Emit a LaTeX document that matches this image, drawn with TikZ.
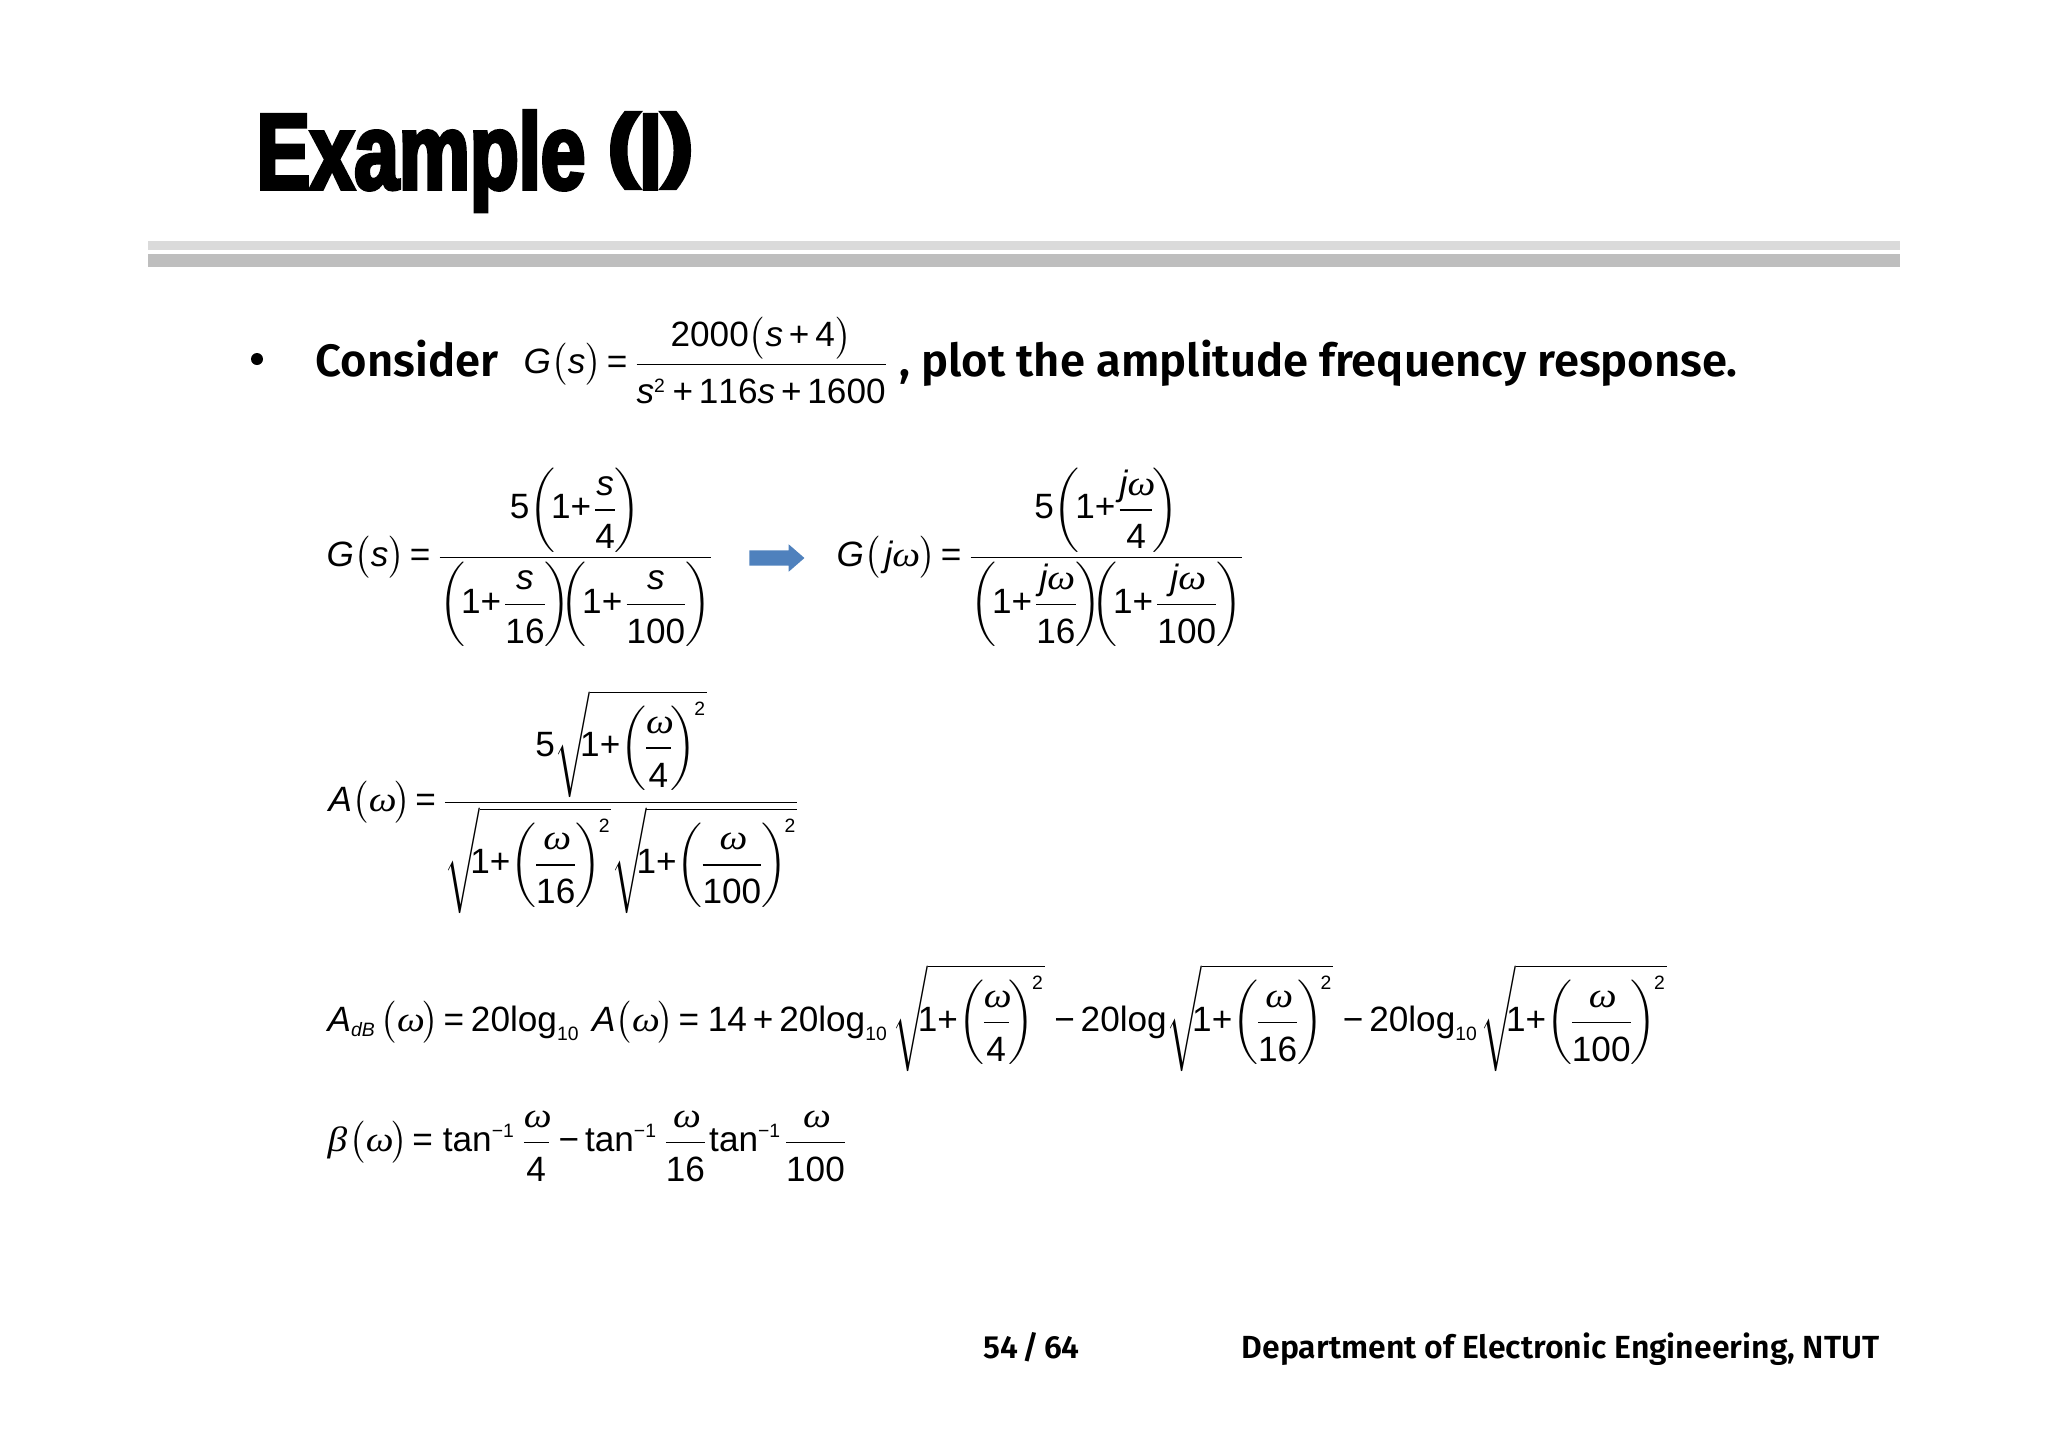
\documentclass[tikz,border=0pt]{standalone}
\usepackage{fix-cm}
\usepackage{amsmath}
\usepackage{graphicx}
\usepackage{fontspec}
\usetikzlibrary{shapes.arrows}
\setmainfont{Liberation Sans}
\newfontfamily\lsansfont{Liberation Sans}[NFSSFamily=lsans]
\newfontfamily\lseriffont{Liberation Serif}[NFSSFamily=lserif,FakeStretch=1.12]
\newfontfamily\headfont{Liberation Sans Bold}[FakeBold=3.5,FakeStretch=.74]
\newfontfamily\bodyfont{Fira Sans SemiBold}
\DeclareSymbolFont{lsup}{TU}{lsans}{m}{n}
\DeclareSymbolFont{lsit}{TU}{lsans}{m}{it}
\DeclareSymbolFont{lser}{TU}{lserif}{m}{it}
\DeclareMathSizes{10}{10}{5.5}{4.5}
\AtBeginDocument{%
  \thinmuskip=0mu \medmuskip=3mu \thickmuskip=2.5mu
  \Umathcode`0="7 \symlsup `0 \Umathcode`1="7 \symlsup `1
  \Umathcode`2="7 \symlsup `2 \Umathcode`4="7 \symlsup `4
  \Umathcode`5="7 \symlsup `5 \Umathcode`6="7 \symlsup `6
  \Umathcode`+="2 \symlsup `+ \Umathcode`=="3 \symlsup `=
  \Umathcode`-="2 \symlsup "2212
  \Umathcode`s="7 \symlsit `s \Umathcode`G="7 \symlsit `G
  \Umathcode`j="7 \symlsit `j \Umathcode`A="7 \symlsit `A
  \Umathcode`d="7 \symlsit `d \Umathcode`B="7 \symlsit `B
  \Umathchardef\wo="7 \symlser "03C9
  \Umathchardef\be="7 \symlser "03B2
}
\newcommand{\onep}{1{+}}
\newcommand{\ffrac}[2]{\dfrac{#1}{\vphantom{\rule{0pt}{9.66pt}}#2}}
\newcommand{\ppar}[1]{\left(\mkern-2.2mu#1\mkern-2.2mu\right)}
\newcommand{\rootw}[1]{\sqrt{\mkern-5mu\onep\ppar{\ffrac{\wo}{#1}}^{\mkern-1.5mu 2}}}
\newcommand{\bigpar}[1]{\bigl(\mkern.3mu#1\mkern.3mu\bigr)}
\definecolor{arrowblue}{HTML}{4F81BD}
\definecolor{rulelight}{HTML}{DADADA}
\definecolor{ruledark}{HTML}{BEBEBE}

\begin{document}
\begin{tikzpicture}[x=0.01cm, y=-0.01cm,
        formula/.style={anchor=base west, inner sep=0pt, font=\fontsize{10}{12}\selectfont},
        bodytext/.style={anchor=base west, inner sep=0pt, font=\bodyfont\fontsize{12.9}{14}\selectfont},
        foottext/.style={anchor=base west, inner sep=0pt, font=\bodyfont\fontsize{9.1}{11}\selectfont}]
        \useasboundingbox (0,0) rectangle (2048,1447);

        \node[anchor=base west, inner sep=0pt, font=\headfont\fontsize{30.7}{34}\selectfont] (title) at (256,189) {Example \raisebox{.16em}{\scalebox{1.2}[.76]{(}}I\raisebox{.16em}{\scalebox{1.2}[.76]{)}}};
        \fill[rulelight] (148,241) rectangle (1900,250);
        \fill[ruledark] (148,254) rectangle (1900,267);

        \fill (257,359) circle (6);
        \node[bodytext] (consider) at (315,376) {Consider};
        \node[formula] (G0) at (523,373) {$G\bigpar{s}=\dfrac{2000\bigpar{s+4}}{\rule{0pt}{9.66pt}s^{2}+116s+1600}$};
        \node[bodytext] (plot) at (899,376) {, plot the amplitude frequency response.};

        \node[formula] (Gs) at (326,566) {$G\bigpar{s}=\dfrac{5\ppar{\onep\ffrac{s}{4}}}{\ppar{\onep\ffrac{s}{16}}\mkern-5mu\ppar{\onep\ffrac{s}{100}}}$};
        \node[single arrow, fill=arrowblue, inner sep=.07cm, minimum height=.55cm, single arrow head extend=.06cm, single arrow tip angle=82] (arrow) at (772.5,558) {};
        \node[formula] (Gjw) at (836,566) {$G\bigpar{\mkern2mu j\wo\mkern1mu}=\dfrac{5\ppar{\onep\ffrac{j\wo}{4}}}{\ppar{\onep\ffrac{j\wo}{16}}\mkern-5mu\ppar{\onep\ffrac{j\wo}{100}}}$};

        \node[formula] (Aw) at (328,811) {$A\bigpar{\wo}=\dfrac{5\rootw{4}}{\rootw{16}\rootw{100}}$};

        \node[formula] (AdB) at (327,1031) {$A_{dB}\mkern2mu\bigpar{\wo}=\mkern1mu 20\mathrm{log}_{10}\mkern6mu A\bigpar{\wo}=\mkern2mu 14+20\mathrm{log}_{10}\mkern2mu\rootw{4}\mkern2mu-20\mathrm{log}\rootw{16}\mkern2mu-20\mathrm{log}_{10}\mkern1mu\rootw{100}$};

        \node[formula] (beta) at (327,1151) {$\be\mkern2mu\bigpar{\wo}=\mkern2.7mu\mathrm{tan}^{-1}\mkern2mu\ffrac{\wo}{4}-\mathrm{tan}^{-1}\mkern2mu\ffrac{\wo}{16}\mathrm{tan}^{-1}\ffrac{\wo}{100}$};

        \node[foottext] (page) at (983,1358) {54\kern1.3pt/\kern1.3pt64};
        \node[foottext] (dept) at (1241,1358) {Department of Electronic Engineering, NTUT};
    \end{tikzpicture}
\end{document}
